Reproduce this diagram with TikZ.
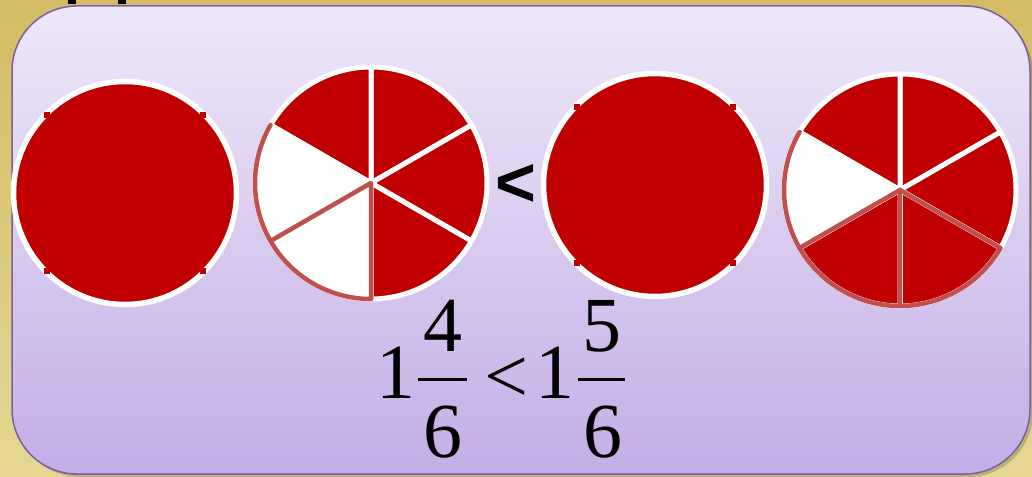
\documentclass[tikz,border=0pt]{standalone}
\usepackage{fontspec}
\setmainfont{Liberation Serif}
\newfontfamily\sansfont{Liberation Sans}
\usetikzlibrary{calc}
\definecolor{pred}{HTML}{C00000}
\definecolor{pbrown}{HTML}{C0504D}
\definecolor{goldtop}{HTML}{D3BC63}
\definecolor{goldbot}{HTML}{E5D792}
\definecolor{lavtop}{HTML}{EEE8F9}
\definecolor{lavbot}{HTML}{C4ADE6}
\definecolor{frameline}{HTML}{7B5EA8}
\newcommand\mypieslice[3]{\draw[#1] (0,0) -- (#2:116) arc[start angle=#2,end angle=#3,radius=116] -- cycle;}
\begin{document}
\begin{tikzpicture}[x=1pt,y=1pt,
 fullcircle/.style={circle, fill=pred, draw=white, line width=5.5pt, minimum size=223pt, inner sep=0pt},
 redslice/.style={fill=pred, draw=white, line width=5pt, line join=round},
 whiteslice/.style={fill=white, draw=white, line width=5pt, line join=round},
 brownedge/.style={draw=pbrown, line width=4.5pt, line join=round, line cap=round},
 digit/.style={inner sep=0pt, font=\fontsize{78}{78}\selectfont},
 fracbar/.style={line width=3pt},
 notch/.style={fill=pred}]
\useasboundingbox (0,0) rectangle (1032,476);
\shade[top color=goldtop,bottom color=goldbot] (0,0) rectangle (1032,476);
\fill[black] (68,472) rectangle (76,476);
\fill[black] (118,472) rectangle (126,476);
\fill[black,opacity=0.18,rounded corners=65pt] (15,-1) rectangle (1033,467);
\shadedraw[top color=lavtop,bottom color=lavbot,draw=frameline,line width=1.5pt,rounded corners=65pt] (12,2) rectangle (1030,470);
% full circle 1
\node[fullcircle] (c1) at (125,283) {};
\foreach \sx in {-1,1}{\foreach \sy in {-1,1}{
  \fill[notch] ([shift={(\sx*78-3,\sy*78-3)}]c1.center) rectangle +(6,6);}}
% pie 2 : 4/6
\begin{scope}[shift={(371,293)}]
 \mypieslice{redslice}{30}{90}
 \mypieslice{redslice}{-30}{30}
 \mypieslice{redslice}{-90}{-30}
 \mypieslice{redslice}{90}{150}
 \mypieslice{whiteslice}{150}{210}
 \mypieslice{whiteslice}{210}{270}
 \draw[brownedge] (150:116) arc[start angle=150,end angle=270,radius=116] -- (0,0) -- (210:116);
\end{scope}
% less-than sign
\node[inner sep=0pt, font=\sansfont\bfseries\fontsize{70}{70}\selectfont] (lt) at (516,290) {<};
% full circle 3
\node[fullcircle] (c3) at (655,291) {};
\foreach \sx in {-1,1}{\foreach \sy in {-1,1}{
  \fill[notch] ([shift={(\sx*78-3,\sy*78-3)}]c3.center) rectangle +(6,6);}}
% pie 4 : 5/6
\begin{scope}[shift={(900,286)}]
 \mypieslice{redslice}{30}{90}
 \mypieslice{redslice}{-30}{30}
 \mypieslice{redslice}{-90}{-30}
 \mypieslice{redslice}{-150}{-90}
 \mypieslice{redslice}{90}{150}
 \mypieslice{whiteslice}{150}{210}
 \draw[brownedge] (150:116) arc[start angle=150,end angle=330,radius=116] -- (0,0);
 \draw[brownedge] (0,0) -- (210:116);
 \draw[brownedge] (0,0) -- (270:116);
\end{scope}
% fraction expression
\node[digit] (w1) at (396,103) {1};
\node[digit] (n1) at (443,150) {4};
\node[digit] (d1) at (443,44) {6};
\draw[fracbar] (418,96) -- (467,96);
\node[digit] (lt2) at (506,96) {<};
\node[digit] (w2) at (555,103) {1};
\node[digit] (n2) at (602,150) {5};
\node[digit] (d2) at (603,44) {6};
\draw[fracbar] (578,96) -- (625,96);
\end{tikzpicture}
\end{document}
